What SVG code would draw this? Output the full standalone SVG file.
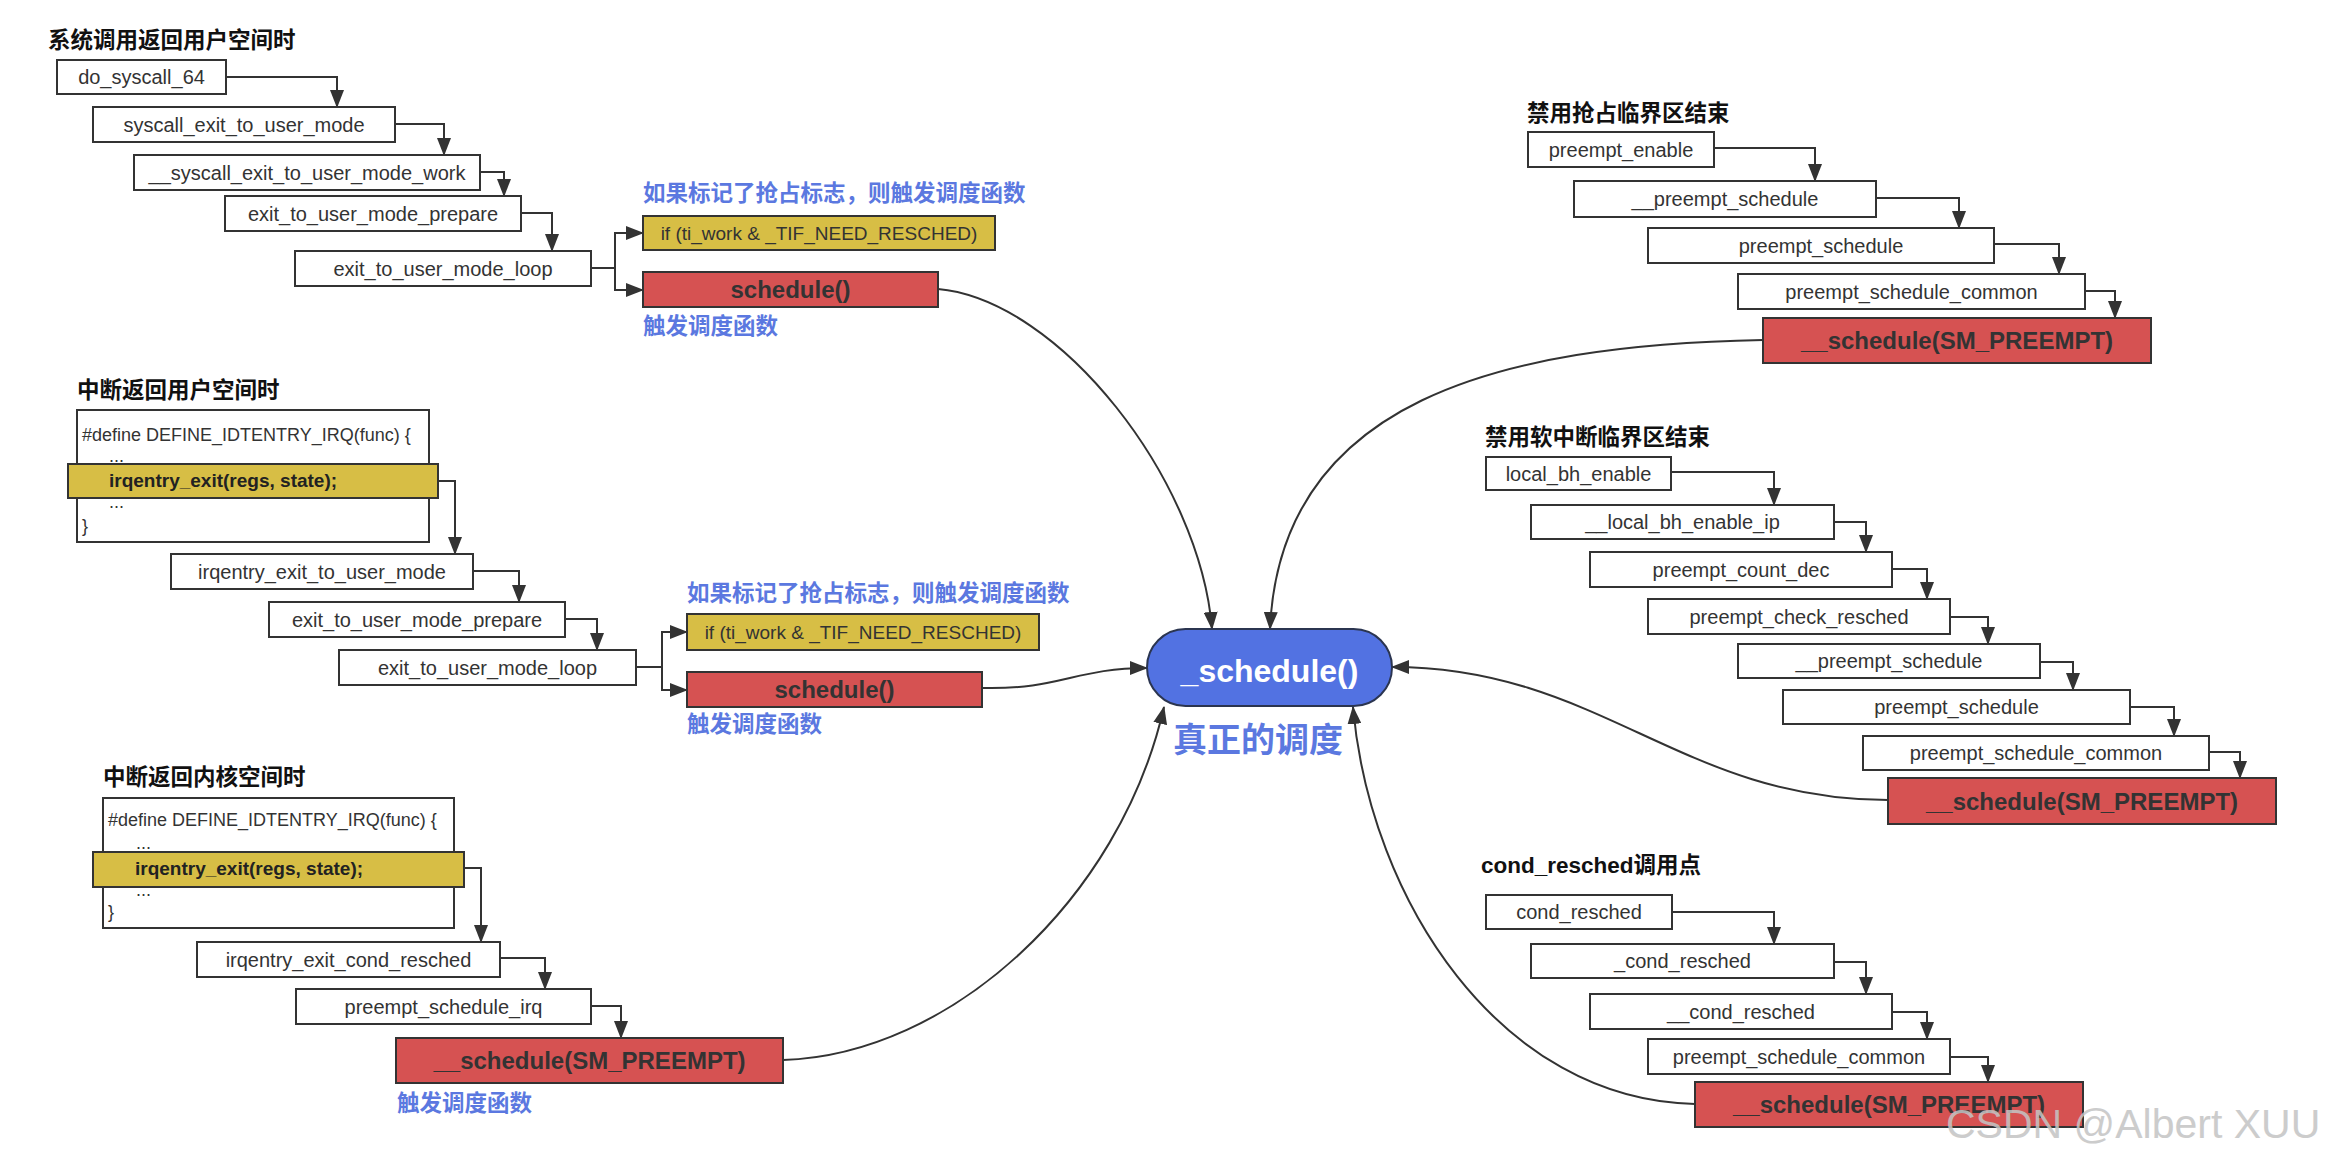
<svg xmlns="http://www.w3.org/2000/svg" width="2331" height="1165" viewBox="0 0 2331 1165">
<style>
.bg{fill:#fff}
.box{fill:#fff;stroke:#333;stroke-width:2}
.yel{fill:#D7BE45;stroke:#333;stroke-width:2}
.red{fill:#D65252;stroke:#333;stroke-width:2}
.core{fill:#5272E2;stroke:#2b3550;stroke-width:2}
.lbl{font-family:"Liberation Sans",Arial,sans-serif;font-size:20px;fill:#333;text-anchor:middle}
.lbl19{font-family:"Liberation Sans",Arial,sans-serif;font-size:19px;fill:#333;text-anchor:middle}
.code{font-family:"Liberation Sans",Arial,sans-serif;font-size:18px;fill:#333}
.codeb{font-family:"Liberation Sans",Arial,sans-serif;font-size:19px;font-weight:bold;fill:#222}
.blbl{font-family:"Liberation Sans",Arial,sans-serif;font-size:24px;font-weight:bold;fill:#333;text-anchor:middle}
.title{font-family:"Liberation Sans","Noto Sans CJK SC",sans-serif;font-size:22.5px;font-weight:bold;fill:#111}
.blue{font-family:"Liberation Sans","Noto Sans CJK SC",sans-serif;font-size:22.5px;font-weight:bold;fill:#5B78E0}
.conn{fill:none;stroke:#333;stroke-width:2}
</style>
<defs>
<marker id="ah" markerUnits="userSpaceOnUse" markerWidth="18" markerHeight="14" refX="17" refY="7" orient="auto">
<path d="M0,0 L18,7 L0,14 z" fill="#333"/>
</marker>
</defs>
<rect class="bg" x="0" y="0" width="2331" height="1165"/>

<!-- Titles and annotations -->
<g id="titles">
<text class="title" x="48" y="48">系统调用返回用户空间时</text>
<text class="title" x="77" y="398">中断返回用户空间时</text>
<text class="title" x="103" y="785">中断返回内核空间时</text>
<text class="title" x="1527" y="121">禁用抢占临界区结束</text>
<text class="title" x="1485" y="445">禁用软中断临界区结束</text>
<text class="title" x="1481" y="873">cond_resched调用点</text>
<text class="blue" x="643" y="201">如果标记了抢占标志，则触发调度函数</text>
<text class="blue" x="643" y="334">触发调度函数</text>
<text class="blue" x="687" y="601">如果标记了抢占标志，则触发调度函数</text>
<text class="blue" x="687" y="732">触发调度函数</text>
<text class="blue" x="397" y="1111">触发调度函数</text>
</g>

<!-- Connectors -->
<g id="connectors">
<path class="conn" marker-end="url(#ah)" d="M226,77 H337 V107"/>
<path class="conn" marker-end="url(#ah)" d="M395,124 H444 V155"/>
<path class="conn" marker-end="url(#ah)" d="M480,172 H504 V196"/>
<path class="conn" marker-end="url(#ah)" d="M521,213 H552 V251"/>
<path class="conn" marker-end="url(#ah)" d="M591,268 H615 V233 H643"/>
<path class="conn" marker-end="url(#ah)" d="M615,268 V290 H643"/>

<path class="conn" marker-end="url(#ah)" d="M438,481 H455 V554"/>
<path class="conn" marker-end="url(#ah)" d="M473,571 H519 V602"/>
<path class="conn" marker-end="url(#ah)" d="M565,619 H597 V650"/>
<path class="conn" marker-end="url(#ah)" d="M636,667 H662 V632 H687"/>
<path class="conn" marker-end="url(#ah)" d="M662,667 V690 H687"/>

<path class="conn" marker-end="url(#ah)" d="M464,868 H481 V942"/>
<path class="conn" marker-end="url(#ah)" d="M500,958 H545 V989"/>
<path class="conn" marker-end="url(#ah)" d="M591,1006 H621 V1038"/>

<path class="conn" marker-end="url(#ah)" d="M1714,148 H1815 V181"/>
<path class="conn" marker-end="url(#ah)" d="M1876,198 H1959 V228"/>
<path class="conn" marker-end="url(#ah)" d="M1994,244 H2059 V274"/>
<path class="conn" marker-end="url(#ah)" d="M2085,291 H2115 V318"/>

<path class="conn" marker-end="url(#ah)" d="M1671,472 H1774 V505"/>
<path class="conn" marker-end="url(#ah)" d="M1834,522 H1866 V552"/>
<path class="conn" marker-end="url(#ah)" d="M1892,569 H1927 V599"/>
<path class="conn" marker-end="url(#ah)" d="M1950,617 H1988 V644"/>
<path class="conn" marker-end="url(#ah)" d="M2040,662 H2073 V690"/>
<path class="conn" marker-end="url(#ah)" d="M2130,707 H2174 V736"/>
<path class="conn" marker-end="url(#ah)" d="M2209,752 H2240 V778"/>

<path class="conn" marker-end="url(#ah)" d="M1672,912 H1774 V944"/>
<path class="conn" marker-end="url(#ah)" d="M1834,962 H1866 V994"/>
<path class="conn" marker-end="url(#ah)" d="M1892,1012 H1927 V1039"/>
<path class="conn" marker-end="url(#ah)" d="M1950,1057 H1988 V1082"/>

<path class="conn" marker-end="url(#ah)" d="M938,289 C1060,300 1200,480 1212,629"/>
<path class="conn" marker-end="url(#ah)" d="M1763,340 C1500,345 1280,400 1270,629"/>
<path class="conn" marker-end="url(#ah)" d="M982,688 C1060,690 1075,668 1147,668"/>
<path class="conn" marker-end="url(#ah)" d="M1888,800 C1680,800 1600,667 1392,667"/>
<path class="conn" marker-end="url(#ah)" d="M783,1060 C950,1055 1120,900 1164,707"/>
<path class="conn" marker-end="url(#ah)" d="M1695,1104 C1500,1100 1370,900 1353,707"/>
</g>

<!-- Group 1: syscall return to user space -->
<g id="do_syscall_64"><rect class="box" x="57" y="60" width="169" height="34"/><text class="lbl" x="141.5" y="84">do_syscall_64</text></g>
<g id="syscall_exit_to_user_mode"><rect class="box" x="93" y="107" width="302" height="35"/><text class="lbl" x="244" y="131.5">syscall_exit_to_user_mode</text></g>
<g id="__syscall_exit_to_user_mode_work"><rect class="box" x="134" y="155" width="346" height="35"/><text class="lbl" x="307" y="179.5">__syscall_exit_to_user_mode_work</text></g>
<g id="exit_to_user_mode_prepare_1"><rect class="box" x="225" y="196" width="296" height="35"/><text class="lbl" x="373" y="220.5">exit_to_user_mode_prepare</text></g>
<g id="exit_to_user_mode_loop_1"><rect class="box" x="295" y="251" width="296" height="35"/><text class="lbl" x="443" y="275.5">exit_to_user_mode_loop</text></g>
<g id="if_resched_1"><rect class="yel" x="643" y="216" width="352" height="34"/><text class="lbl19" x="819" y="240">if (ti_work &amp; _TIF_NEED_RESCHED)</text></g>
<g id="schedule_1"><rect class="red" x="643" y="272" width="295" height="35"/><text class="blbl" x="790.5" y="298">schedule()</text></g>

<!-- Group 2: irq return to user space -->
<g id="define_irq_1">
<rect class="box" x="77" y="410" width="352" height="132"/>
<text class="code" x="82" y="441">#define DEFINE_IDTENTRY_IRQ(func) {</text>
<text class="code" x="109" y="462">...</text>
<text class="code" x="109" y="508">...</text>
<text class="code" x="82" y="532">}</text>
</g>
<g id="irqentry_exit_1"><rect class="yel" x="68" y="464" width="370" height="34"/><text class="codeb" x="109" y="487">irqentry_exit(regs, state);</text></g>
<g id="irqentry_exit_to_user_mode"><rect class="box" x="171" y="554" width="302" height="35"/><text class="lbl" x="322" y="578.5">irqentry_exit_to_user_mode</text></g>
<g id="exit_to_user_mode_prepare_2"><rect class="box" x="269" y="602" width="296" height="35"/><text class="lbl" x="417" y="626.5">exit_to_user_mode_prepare</text></g>
<g id="exit_to_user_mode_loop_2"><rect class="box" x="339" y="650" width="297" height="35"/><text class="lbl" x="487.5" y="674.5">exit_to_user_mode_loop</text></g>
<g id="if_resched_2"><rect class="yel" x="687" y="614" width="352" height="36"/><text class="lbl19" x="863" y="639">if (ti_work &amp; _TIF_NEED_RESCHED)</text></g>
<g id="schedule_2"><rect class="red" x="687" y="672" width="295" height="35"/><text class="blbl" x="834.5" y="698">schedule()</text></g>

<!-- Group 3: irq return to kernel space -->
<g id="define_irq_2">
<rect class="box" x="103" y="798" width="351" height="130"/>
<text class="code" x="108" y="826">#define DEFINE_IDTENTRY_IRQ(func) {</text>
<text class="code" x="136" y="849">...</text>
<text class="code" x="136" y="896">...</text>
<text class="code" x="108" y="918">}</text>
</g>
<g id="irqentry_exit_2"><rect class="yel" x="93" y="852" width="371" height="35"/><text class="codeb" x="135" y="875">irqentry_exit(regs, state);</text></g>
<g id="irqentry_exit_cond_resched"><rect class="box" x="197" y="942" width="303" height="35"/><text class="lbl" x="348.5" y="966.5">irqentry_exit_cond_resched</text></g>
<g id="preempt_schedule_irq"><rect class="box" x="296" y="989" width="295" height="35"/><text class="lbl" x="443.5" y="1013.5">preempt_schedule_irq</text></g>
<g id="schedule_preempt_3"><rect class="red" x="396" y="1038" width="387" height="45"/><text class="blbl" x="589.5" y="1069">__schedule(SM_PREEMPT)</text></g>

<!-- Right group 1: preempt_enable -->
<g id="preempt_enable"><rect class="box" x="1528" y="132" width="186" height="35"/><text class="lbl" x="1621" y="156.5">preempt_enable</text></g>
<g id="__preempt_schedule_1"><rect class="box" x="1574" y="181" width="302" height="36"/><text class="lbl" x="1725" y="206">__preempt_schedule</text></g>
<g id="preempt_schedule_1"><rect class="box" x="1648" y="228" width="346" height="35"/><text class="lbl" x="1821" y="252.5">preempt_schedule</text></g>
<g id="preempt_schedule_common_1"><rect class="box" x="1738" y="274" width="347" height="35"/><text class="lbl" x="1911.5" y="298.5">preempt_schedule_common</text></g>
<g id="schedule_preempt_1"><rect class="red" x="1763" y="318" width="388" height="45"/><text class="blbl" x="1957" y="349">__schedule(SM_PREEMPT)</text></g>

<!-- Right group 2: local_bh_enable -->
<g id="local_bh_enable"><rect class="box" x="1486" y="457" width="185" height="33"/><text class="lbl" x="1578.5" y="480.5">local_bh_enable</text></g>
<g id="__local_bh_enable_ip"><rect class="box" x="1531" y="505" width="303" height="34"/><text class="lbl" x="1682.5" y="529">__local_bh_enable_ip</text></g>
<g id="preempt_count_dec"><rect class="box" x="1590" y="552" width="302" height="35"/><text class="lbl" x="1741" y="576.5">preempt_count_dec</text></g>
<g id="preempt_check_resched"><rect class="box" x="1648" y="599" width="302" height="35"/><text class="lbl" x="1799" y="623.5">preempt_check_resched</text></g>
<g id="__preempt_schedule_2"><rect class="box" x="1738" y="644" width="302" height="34"/><text class="lbl" x="1889" y="668">__preempt_schedule</text></g>
<g id="preempt_schedule_2"><rect class="box" x="1783" y="690" width="347" height="34"/><text class="lbl" x="1956.5" y="714">preempt_schedule</text></g>
<g id="preempt_schedule_common_2"><rect class="box" x="1863" y="736" width="346" height="34"/><text class="lbl" x="2036" y="760">preempt_schedule_common</text></g>
<g id="schedule_preempt_2"><rect class="red" x="1888" y="778" width="388" height="46"/><text class="blbl" x="2082" y="809.5">__schedule(SM_PREEMPT)</text></g>

<!-- Right group 3: cond_resched -->
<g id="cond_resched"><rect class="box" x="1486" y="895" width="186" height="34"/><text class="lbl" x="1579" y="919">cond_resched</text></g>
<g id="_cond_resched"><rect class="box" x="1531" y="944" width="303" height="34"/><text class="lbl" x="1682.5" y="968">_cond_resched</text></g>
<g id="__cond_resched"><rect class="box" x="1590" y="994" width="302" height="35"/><text class="lbl" x="1741" y="1018.5">__cond_resched</text></g>
<g id="preempt_schedule_common_3"><rect class="box" x="1648" y="1039" width="302" height="35"/><text class="lbl" x="1799" y="1063.5">preempt_schedule_common</text></g>
<g id="schedule_preempt_4"><rect class="red" x="1695" y="1082" width="388" height="45"/><text class="blbl" x="1889" y="1113">__schedule(SM_PREEMPT)</text></g>

<!-- Core node -->
<g id="core_schedule">
<rect class="core" x="1147" y="629" width="245" height="77" rx="38.5" ry="38.5"/>
<text x="1269.5" y="682" style="font-family:'Liberation Sans',Arial,sans-serif;font-size:32px;font-weight:bold;fill:#fff;text-anchor:middle">_schedule()</text>
<text x="1173" y="752" style="font-family:'Liberation Sans','Noto Sans CJK SC',sans-serif;font-size:34px;font-weight:bold;fill:#5B78E0">真正的调度</text>
</g>

<text x="1946" y="1138" style="font-family:'Liberation Sans',Arial,sans-serif;font-size:41px;fill:#c4c4c4;opacity:0.85">CSDN @Albert XUU</text>
</svg>
